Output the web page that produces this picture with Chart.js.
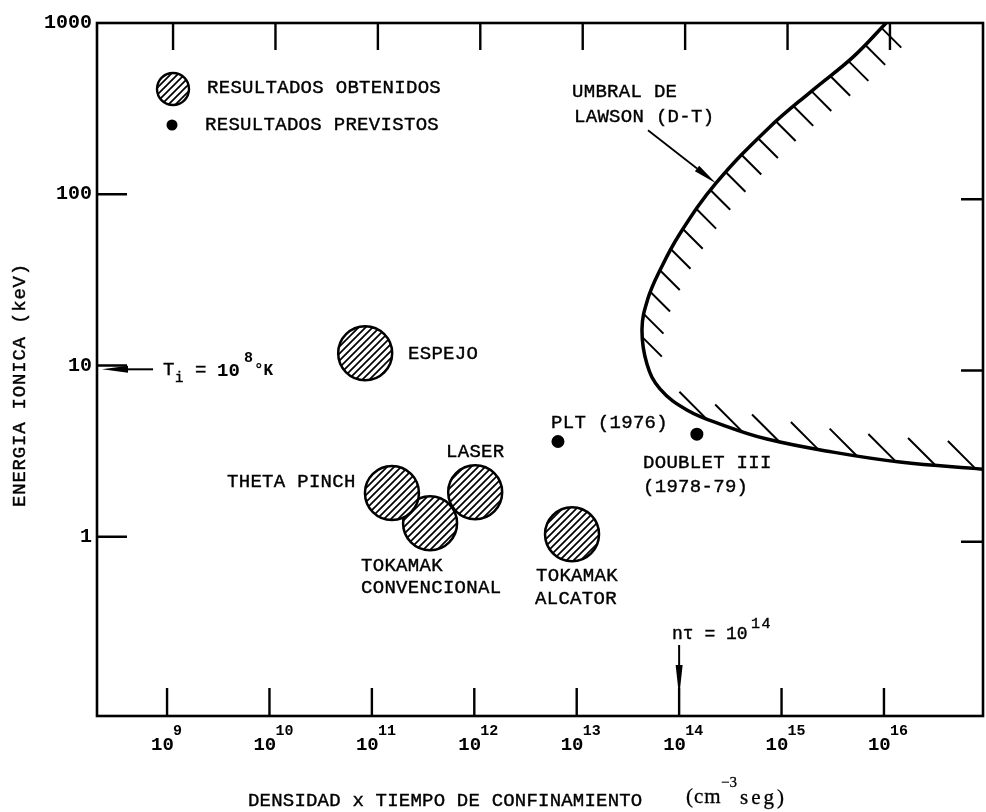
<!DOCTYPE html>
<html>
<head>
<meta charset="utf-8">
<script src="https://cdn.jsdelivr.net/npm/chart.js@4.4.1/dist/chart.umd.min.js"></script>
<style>
  html, body { margin: 0; padding: 0; background: #fff; }
  #wrap { width: 986px; height: 812px; }
</style>
</head>
<body>
<div id="wrap"><canvas id="chart" width="986" height="812"></canvas></div>
<script>
// axes (log-log): n*tau in cm^-3 s, ion energy in keV
var xMin = 2.07e8, xMax = 9.27e16;
var yMin = 0.0898, yMax = 1000;
var xTickExps = [9, 10, 11, 12, 13, 14, 15, 16];
var yTickValues = [1, 10, 100, 1000];
var yTickLabels = ['1', '10', '100', '1000'];

// resultados obtenidos (hatched circles)
var obtainedNames = ['TOKAMAK CONVENCIONAL', 'ESPEJO', 'THETA PINCH', 'LASER', 'TOKAMAK ALCATOR'];
var obtainedX = [3.7e11, 8.6e10, 1.57e11, 1.02e12, 9.0e12];
var obtainedY = [1.20, 11.8, 1.80, 1.82, 1.035];

// resultados previstos (dots)
var predictedNames = ['PLT (1976)', 'DOUBLET III (1978-79)'];
var predictedX = [6.56e12, 1.49e14];
var predictedY = [3.6, 3.97];

// umbral de Lawson (D-T)
var lawsonX = [1.05e16, 4.98e15, 2.02e15, 7.5e14, 2.29e14, 1.02e14, 6.5e13, 4.95e13, 4.34e13,
               4.85e13, 6.5e13, 1.19e14, 2.68e14, 7.2e14, 3.18e15, 1.43e16, 9.2e16];
var lawsonY = [1000, 632, 406, 244, 116, 59, 36, 24.5, 16.3,
               10.2, 7.3, 5.5, 4.49, 3.72, 3.12, 2.73, 2.48];

var lawsonArrowAt = [2.29e14, 116];  // where the label arrow touches the curve
var ntMark = 1e14;                    // n tau = 10^14
var tiMark = 9.5;                     // T_i = 10^8 K

var MONO = "'Liberation Mono', 'Courier New', monospace";
var SERIF = "'Liberation Serif', 'Times New Roman', serif";

var canvas = document.getElementById('chart');
var ctxMain = canvas.getContext('2d');

function makeHatch(ctx, size, lw) {
  var c = document.createElement('canvas');
  c.width = size; c.height = size;
  var g = c.getContext('2d');
  g.fillStyle = '#fff';
  g.fillRect(0, 0, size, size);
  g.strokeStyle = '#000';
  g.lineWidth = lw;
  g.beginPath();
  g.moveTo(-1, size + 1); g.lineTo(size + 1, -1);
  g.moveTo(-1, 1); g.lineTo(1, -1);
  g.moveTo(size - 1, size + 1); g.lineTo(size + 1, size - 1);
  g.stroke();
  return ctx.createPattern(c, 'repeat');
}
var hatch = makeHatch(ctxMain, 7, 1.7);

function toPoints(xs, ys) {
  return xs.map(function (x, i) { return { x: x, y: ys[i] }; });
}

// typewriter text, stroked lightly so it reads a bit heavier
function txt(c, s, x, y, font, spacing, align, heavy) {
  c.font = font;
  c.letterSpacing = (spacing || 0) + 'px';
  c.textAlign = align || 'left';
  c.textBaseline = 'middle';
  c.fillText(s, x, y);
  if (heavy) {
    c.lineWidth = heavy;
    c.strokeText(s, x, y);
  }
}

function arrow(c, x1, y1, x2, y2, headLen, headW, lw) {
  var ang = Math.atan2(y2 - y1, x2 - x1);
  var bx = x2 - headLen * Math.cos(ang), by = y2 - headLen * Math.sin(ang);
  c.lineWidth = lw;
  c.beginPath(); c.moveTo(x1, y1); c.lineTo(bx, by); c.stroke();
  c.beginPath();
  c.moveTo(x2, y2);
  c.lineTo(bx + headW * Math.sin(ang), by - headW * Math.cos(ang));
  c.lineTo(bx - headW * Math.sin(ang), by + headW * Math.cos(ang));
  c.closePath();
  c.fill();
}

// sample the drawn (bezier) curve into a fine polyline
function curveSamples(meta) {
  var pts = meta.data, out = [];
  for (var i = 0; i < pts.length - 1; i++) {
    var p = pts[i], q = pts[i + 1];
    var c1x = p.cp2x !== undefined ? p.cp2x : p.x, c1y = p.cp2y !== undefined ? p.cp2y : p.y;
    var c2x = q.cp1x !== undefined ? q.cp1x : q.x, c2y = q.cp1y !== undefined ? q.cp1y : q.y;
    for (var k = 0; k < 40; k++) {
      var t = k / 40, u = 1 - t;
      out.push({
        x: u * u * u * p.x + 3 * u * u * t * c1x + 3 * u * t * t * c2x + t * t * t * q.x,
        y: u * u * u * p.y + 3 * u * u * t * c1y + 3 * u * t * t * c2y + t * t * t * q.y
      });
    }
  }
  out.push({ x: pts[pts.length - 1].x, y: pts[pts.length - 1].y });
  return out;
}

var decor = {
  id: 'decor',
  afterDatasetsDraw: function (chart) {
    var c = chart.ctx, a = chart.chartArea;
    var xs = chart.scales.x, ys = chart.scales.y;
    c.save();
    c.strokeStyle = '#000';
    c.fillStyle = '#000';

    // hatching on the inner side of the Lawson curve
    var s = curveSamples(chart.getDatasetMeta(0));
    var arc = 0, next = 6, d = Math.SQRT1_2;
    c.lineWidth = 2;
    c.beginPath();
    for (var i = 1; i < s.length - 1; i++) {
      arc += Math.hypot(s[i].x - s[i - 1].x, s[i].y - s[i - 1].y);
      if (arc < next) continue;
      var tx = s[i + 1].x - s[i - 1].x, ty = s[i + 1].y - s[i - 1].y;
      var tl = Math.hypot(tx, ty) || 1;
      tx /= tl; ty /= tl;
      var dot = (ty - tx) * d;          // inner normal (ty,-tx) against the "\" direction
      var ok = dot > 0.5 || dot < -0.41;
      if (!ok || s[i].x > a.right - 4 || s[i].y < a.top + 2) { next = arc + 2; continue; }
      var len = dot > 0 ? 28 : 39, sg = dot > 0 ? 1 : -1;
      c.moveTo(s[i].x, s[i].y);
      c.lineTo(s[i].x + sg * len * d, s[i].y + sg * len * d);
      next = arc + (dot > 0 ? 23 : 38);
    }
    c.stroke();

    // frame
    c.lineWidth = 2.6;
    c.strokeRect(a.left, a.top, a.right - a.left, a.bottom - a.top);

    // inward ticks
    c.lineWidth = 2.4;
    c.beginPath();
    xTickExps.forEach(function (e) {
      var px = xs.getPixelForValue(Math.pow(10, e));
      c.moveTo(px, a.bottom); c.lineTo(px, a.bottom - 28);
      c.moveTo(px + 6, a.top); c.lineTo(px + 6, a.top + 27);
    });
    yTickValues.forEach(function (v) {
      if (v >= yMax) return;
      var py = ys.getPixelForValue(v);
      c.moveTo(a.left, py); c.lineTo(a.left + 30, py);
      c.moveTo(a.right, py + 5); c.lineTo(a.right - 22, py + 5);
    });
    c.stroke();

    // y tick labels
    yTickValues.forEach(function (v, i) {
      txt(c, yTickLabels[i], a.left - 5, ys.getPixelForValue(v), 'bold 20px ' + MONO, 0, 'right');
    });
    // x tick labels 10^n
    xTickExps.forEach(function (e) {
      var px = xs.getPixelForValue(Math.pow(10, e));
      txt(c, '10', px - 16, a.bottom + 29, 'bold 19px ' + MONO, 0, 'left');
      txt(c, String(e), px + 6, a.bottom + 15, 'bold 15px ' + MONO, 0, 'left');
    });

    var H = 0.4;
    // axis titles
    c.save();
    c.translate(20, 385);
    c.rotate(-Math.PI / 2);
    txt(c, 'ENERGIA IONICA (keV)', 0, 0, '19px ' + MONO, 0.8, 'center', H);
    c.restore();
    txt(c, 'DENSIDAD x TIEMPO DE CONFINAMIENTO', 248, 801, '19px ' + MONO, 0.2, 'left', H);
    txt(c, '(cm', 686, 797, '21px ' + SERIF, 1, 'left', 0.3);
    txt(c, '\u22123', 721, 783, '15px ' + SERIF, 0, 'left', 0.3);
    txt(c, 'seg)', 740, 798, '21px ' + SERIF, 3, 'left', 0.3);

    // legend
    c.beginPath();
    c.arc(173, 89, 16, 0, Math.PI * 2);
    c.fillStyle = hatch; c.fill();
    c.lineWidth = 2.4; c.stroke();
    c.fillStyle = '#000';
    c.beginPath();
    c.arc(172, 125, 5.5, 0, Math.PI * 2);
    c.fill();

    var F = '19px ' + MONO;
    [
      ['RESULTADOS OBTENIDOS', 207, 88],
      ['RESULTADOS PREVISTOS', 205, 125],
      ['UMBRAL DE', 572, 92],
      ['LAWSON (D-T)', 574, 117],
      ['ESPEJO', 408, 354],
      ['THETA PINCH', 227, 482],
      ['LASER', 446, 452],
      ['TOKAMAK', 361, 566],
      ['CONVENCIONAL', 361, 588],
      ['TOKAMAK', 536, 576],
      ['ALCATOR', 535, 599],
      ['PLT (1976)', 551, 423],
      ['DOUBLET III', 643, 463],
      ['(1978-79)', 643, 487]
    ].forEach(function (l) { txt(c, l[0], l[1], l[2], F, 0.3, 'left', H); });

    // arrow to the Lawson curve
    var lx = xs.getPixelForValue(lawsonArrowAt[0]), ly = ys.getPixelForValue(lawsonArrowAt[1]);
    arrow(c, lx - 68, ly - 53, lx, ly, 24, 3.5, 1.8);

    // n tau = 10^14
    var nx = xs.getPixelForValue(ntMark);
    arrow(c, nx, a.bottom - 71, nx, a.bottom - 19, 32, 3.5, 2);
    txt(c, 'n\u03c4 = 10', 672, 634, '18px ' + MONO, 0, 'left', H);
    txt(c, '14', 751, 624, '15px ' + MONO, 1.5, 'left', H);

    // T_i = 10^8 K
    var ty0 = ys.getPixelForValue(tiMark);
    arrow(c, a.left + 56, ty0, a.left + 5, ty0, 26, 3.5, 2);
    txt(c, 'T', 163, ty0 + 1, '19px ' + MONO, 0, 'left', H);
    txt(c, 'i', 175, ty0 + 9, '14px ' + MONO, 0, 'left', H);
    txt(c, '=', 195, ty0 + 1, '19px ' + MONO, 0, 'left', H);
    txt(c, '10', 217, ty0 + 2, 'bold 19px ' + MONO, 0, 'left');
    txt(c, '8', 244, ty0 - 11, 'bold 15px ' + MONO, 0, 'left');
    txt(c, '\u00b0K', 254, ty0 + 2, 'bold 16px ' + MONO, 0, 'left');

    c.restore();
  }
};

new Chart(ctxMain, {
  type: 'scatter',
  data: {
    datasets: [
      {
        label: 'UMBRAL DE LAWSON (D-T)',
        data: toPoints(lawsonX, lawsonY),
        showLine: true,
        borderColor: '#000',
        borderWidth: 3.5,
        pointRadius: 0,
        tension: 0.4,
        fill: false
      },
      {
        label: 'RESULTADOS OBTENIDOS',
        data: toPoints(obtainedX, obtainedY),
        pointRadius: 27,
        pointHoverRadius: 27,
        backgroundColor: hatch,
        borderColor: '#000',
        borderWidth: 2.5
      },
      {
        label: 'RESULTADOS PREVISTOS',
        data: toPoints(predictedX, predictedY),
        pointRadius: 6.5,
        pointHoverRadius: 6.5,
        backgroundColor: '#000',
        borderColor: '#000',
        borderWidth: 0
      }
    ]
  },
  options: {
    responsive: false,
    animation: false,
    devicePixelRatio: 1,
    layout: { autoPadding: false, padding: { left: 97, top: 23, right: 3, bottom: 96 } },
    scales: {
      x: { type: 'logarithmic', display: false, min: xMin, max: xMax },
      y: { type: 'logarithmic', display: false, min: yMin, max: yMax }
    },
    plugins: {
      legend: { display: false },
      tooltip: { enabled: false }
    }
  },
  plugins: [decor]
});
</script>
</body>
</html>
